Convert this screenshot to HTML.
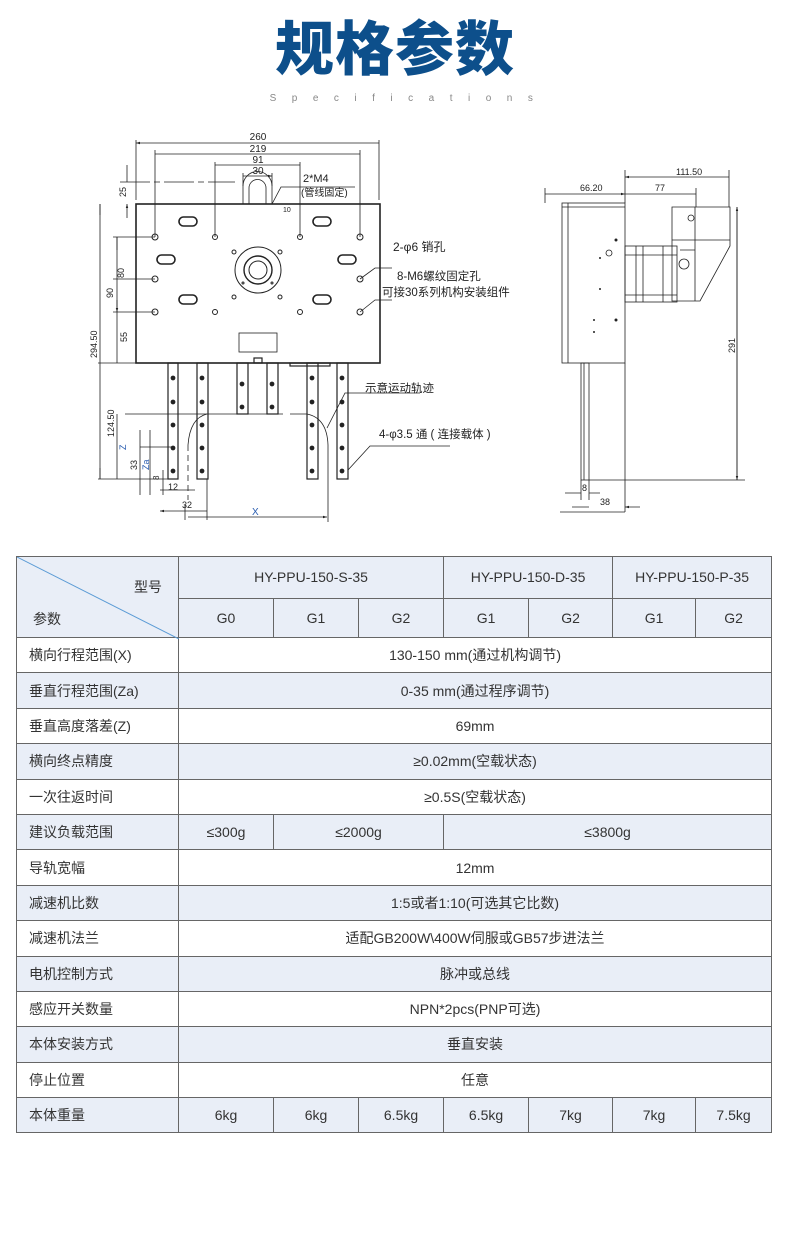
<!DOCTYPE html>
<html><head><meta charset="utf-8"><style>
body{margin:0;background:#fff;width:790px;height:1242px;position:relative;overflow:hidden;font-family:"Liberation Sans","Noto Sans CJK SC",sans-serif;}
.t{position:absolute;left:0;width:790px;text-align:center;}
#title{top:6px;font-size:59px;font-weight:900;color:#0d4f8b;letter-spacing:1px;font-family:"Noto Sans CJK SC","WenQuanYi Zen Hei",sans-serif;line-height:78px;}
#sub{top:93px;font-size:10px;color:#888;letter-spacing:15.5px;padding-left:14px;}
table{position:absolute;left:16px;top:556px;border-collapse:collapse;table-layout:fixed;width:755px;font-size:14px;color:#333;}
td{border:1.5px solid #666;text-align:center;padding:0;height:34.4px;}
tr.a td{background:#e9eef7;}
td.l{text-align:left;padding-left:12px;}
</style></head><body>
<div class="t" id="title">规格参数</div>
<div class="t" id="sub">Specifications</div>
<svg width="790" height="540" style="position:absolute;left:0;top:0" font-family="Liberation Sans,Noto Sans CJK SC,sans-serif" font-size="10" fill="#222">
<defs><marker id="ar" viewBox="0 0 10 10" refX="10" refY="5" markerWidth="7" markerHeight="5" orient="auto-start-reverse"><path d="M0,2L10,5L0,8z" fill="#222"/></marker></defs>
<g stroke="#222" stroke-width="0.8" fill="none">
<rect x="136" y="204" width="244" height="159" stroke-width="1.6"/>
<path d="M243,204V186a14.5,14.5 0 0 1 29,0V204M249,204V188a8.5,8.5 0 0 1 17,0V204"/>
<rect x="239" y="333" width="38" height="19"/>
<path d="M136,140V200M379,140V200M155,150V237M360,150V237M215,162V237M300,162V237M243,173V186M272,173V186"/>
<path d="M136,143H379M155,154H360M215,165H300M243,176H272" marker-start="url(#ar)" marker-end="url(#ar)"/>
<path d="M120,182H235" stroke-dasharray="30 4 6 4"/>
<path d="M127,165V182M127,218V204" marker-end="url(#ar)"/>
<path d="M272,204L281,187H355"/>
<g stroke-width="1">
<circle cx="155" cy="237" r="3"/><circle cx="215" cy="237" r="2.5"/><circle cx="300" cy="237" r="2.5"/><circle cx="360" cy="237" r="3"/>
<circle cx="155" cy="279" r="3"/><circle cx="360" cy="279" r="3"/>
<circle cx="155" cy="312" r="3"/><circle cx="215" cy="312" r="2.5"/><circle cx="300" cy="312" r="2.5"/><circle cx="360" cy="312" r="3"/>
<circle cx="234" cy="252" r="2"/><circle cx="280" cy="252" r="2"/><circle cx="234" cy="297" r="2"/><circle cx="280" cy="297" r="2"/>
<rect x="179" y="217" width="18" height="9" rx="4.5" stroke-width="1.6"/><rect x="313" y="217" width="18" height="9" rx="4.5" stroke-width="1.6"/>
<rect x="157" y="255" width="18" height="9" rx="4.5" stroke-width="1.6"/><rect x="338" y="255" width="18" height="9" rx="4.5" stroke-width="1.6"/>
<rect x="179" y="295" width="18" height="9" rx="4.5" stroke-width="1.6"/><rect x="313" y="295" width="18" height="9" rx="4.5" stroke-width="1.6"/>
<circle cx="258" cy="270" r="23"/><circle cx="258" cy="270" r="14" stroke-width="1.4"/><circle cx="258" cy="270" r="9"/>
<circle cx="243" cy="283" r="1"/><circle cx="272" cy="283" r="1"/>
</g>
<path d="M360,279L375,268H392M360,312L375,300H392"/>
<path d="M100,204V479M117,237V363M117,414V479M98,363H136M113,237H155M113,279H155M113,312H155" />
<path d="M100,215V204M100,468V479M117,250V237M117,300V312" marker-end="url(#ar)"/>
<path d="M98,479H175"/>
<g stroke-width="1.2">
<rect x="168" y="363" width="10" height="116"/><rect x="197" y="363" width="11" height="116"/>
<rect x="237" y="363" width="11" height="51"/><rect x="267" y="363" width="11" height="51"/>
<rect x="307" y="363" width="11" height="116"/><rect x="337" y="363" width="11" height="116"/>
<rect x="290" y="363" width="40" height="3"/><rect x="254" y="358" width="8" height="5"/>
</g>
<g fill="#222">
<circle cx="173" cy="378" r="2"/><circle cx="173" cy="402" r="2"/><circle cx="173" cy="425" r="2"/><circle cx="173" cy="448" r="2"/><circle cx="173" cy="471" r="2"/>
<circle cx="202" cy="378" r="2"/><circle cx="202" cy="402" r="2"/><circle cx="202" cy="425" r="2"/><circle cx="202" cy="448" r="2"/><circle cx="202" cy="471" r="2"/>
<circle cx="242" cy="384" r="2"/><circle cx="242" cy="407" r="2"/><circle cx="272" cy="384" r="2"/><circle cx="272" cy="407" r="2"/>
<circle cx="312" cy="378" r="2"/><circle cx="312" cy="402" r="2"/><circle cx="312" cy="425" r="2"/><circle cx="312" cy="448" r="2"/><circle cx="312" cy="471" r="2"/>
<circle cx="342" cy="378" r="2"/><circle cx="342" cy="402" r="2"/><circle cx="342" cy="425" r="2"/><circle cx="342" cy="448" r="2"/><circle cx="342" cy="471" r="2"/>
</g>
<path d="M125,414H283M290,414H307"/>
<path d="M188,445Q190,418 207,414M307,414Q327,418 328,445V522"/>
<path d="M188,445V500" stroke-dasharray="6 4"/>
<path d="M327,428L345,393H420M348,470L370,446H450"/>
<path d="M140,447H175M150,430V495M140,430V495M163,470V495M160,490H195M185,505V520"/>
<path d="M160,511H207M188,517H327" marker-start="url(#ar)" marker-end="url(#ar)"/>
<path d="M207,479V520"/>
<rect x="562" y="203" width="63" height="160"/><path d="M568,203V363M562,207H625"/>
<rect x="581" y="363" width="8" height="117"/><path d="M584,363V480"/>
<rect x="625" y="246" width="52" height="56"/><path d="M636,246V302M643,246V302M663,246V302M625,255H677M625,295H677"/>
<path d="M672,207H730V246L700,301H672Z M672,240H730M695,207V301M680,250H695V300"/>
<circle cx="684" cy="264" r="5"/><circle cx="691" cy="218" r="3"/><circle cx="609" cy="253" r="3"/>
<path d="M625,170V203M729,170V207M696,188V207M545,188V203M737,207V480M589,480H745M581,480V500M589,480V500M625,363V512M560,512H625"/>
<path d="M625,177H729M625,194H696M545,194H625" marker-start="url(#ar)" marker-end="url(#ar)"/>
<path d="M737,207V480" marker-start="url(#ar)" marker-end="url(#ar)"/>
<path d="M565,493H581M600,493H589M572,507H589M640,507H625" marker-end="url(#ar)"/>
</g>
<g fill="#222"><circle cx="616" cy="240" r="1.5"/><circle cx="600" cy="258" r="1"/><circle cx="600" cy="289" r="1"/><circle cx="594" cy="320" r="1"/><circle cx="616" cy="320" r="1.5"/><circle cx="594" cy="332" r="1"/></g>
<text x="258" y="140" text-anchor="middle">260</text>
<text x="258" y="152" text-anchor="middle">219</text>
<text x="258" y="163" text-anchor="middle">91</text>
<text x="258" y="174" text-anchor="middle">30</text>
<text x="303" y="182" font-size="11">2*M4</text>
<text x="301" y="196" font-size="10">(管线固定)</text>
<text x="283" y="212" font-size="7">10</text>
<text x="393" y="251" font-size="12">2-φ6 销孔</text>
<text x="397" y="280" font-size="11.5">8-M6螺纹固定孔</text>
<text x="382" y="296" font-size="11.5">可接30系列机构安装组件</text>
<text x="365" y="392" font-size="11.5">示意运动轨迹</text>
<text x="379" y="438" font-size="11.5">4-φ3.5 通 ( 连接载体 )</text>
<text transform="translate(126,197) rotate(-90)" font-size="9">25</text>
<text transform="translate(124,278) rotate(-90)" font-size="9">80</text>
<text transform="translate(113,298) rotate(-90)" font-size="9">90</text>
<text transform="translate(127,342) rotate(-90)" font-size="9">55</text>
<text transform="translate(97,358) rotate(-90)" font-size="9">294.50</text>
<text transform="translate(114,437) rotate(-90)" font-size="9">124.50</text>
<text transform="translate(126,450) rotate(-90)" font-size="9" fill="#2a5db0">Z</text>
<text transform="translate(137,470) rotate(-90)" font-size="9">33</text>
<text transform="translate(149,470) rotate(-90)" font-size="9" fill="#2a5db0">Za</text>
<text transform="translate(159,480) rotate(-90)" font-size="8">8</text>
<text x="168" y="490" font-size="9">12</text>
<text x="182" y="508" font-size="9">32</text>
<text x="252" y="515" font-size="10" fill="#2a5db0">X</text>
<text x="676" y="175" font-size="9">111.50</text>
<text x="655" y="191" font-size="9">77</text>
<text x="580" y="191" font-size="9">66.20</text>
<text transform="translate(735,353) rotate(-90)" font-size="9">291</text>
<text x="582" y="491" font-size="9">8</text>
<text x="600" y="505" font-size="9">38</text>
</svg>
<table>
<colgroup><col style="width:162px"><col style="width:95px"><col style="width:85px"><col style="width:85px"><col style="width:85px"><col style="width:84px"><col style="width:83px"><col style="width:76px"></colgroup>
<tr class="a"><td rowspan="2" style="position:relative;height:80px;"><svg width="162" height="82" style="position:absolute;left:0;top:0"><line x1="0" y1="0" x2="162" y2="82" stroke="#5b9bd5" stroke-width="1"/></svg><span style="position:absolute;right:16px;top:20px">型号</span><span style="position:absolute;left:16px;top:52px">参数</span></td><td colspan="3" style="height:40px">HY-PPU-150-S-35</td><td colspan="2">HY-PPU-150-D-35</td><td colspan="2">HY-PPU-150-P-35</td></tr>
<tr class="a"><td style="height:38px">G0</td><td>G1</td><td>G2</td><td>G1</td><td>G2</td><td>G1</td><td>G2</td></tr>
<tr><td class="l">横向行程范围(X)</td><td colspan="7">130-150 mm(通过机构调节)</td></tr>
<tr class="a"><td class="l">垂直行程范围(Za)</td><td colspan="7">0-35 mm(通过程序调节)</td></tr>
<tr><td class="l">垂直高度落差(Z)</td><td colspan="7">69mm</td></tr>
<tr class="a"><td class="l">横向终点精度</td><td colspan="7">≥0.02mm(空载状态)</td></tr>
<tr><td class="l">一次往返时间</td><td colspan="7">≥0.5S(空载状态)</td></tr>
<tr class="a"><td class="l">建议负载范围</td><td>≤300g</td><td colspan="2">≤2000g</td><td colspan="4">≤3800g</td></tr>
<tr><td class="l">导轨宽幅</td><td colspan="7">12mm</td></tr>
<tr class="a"><td class="l">减速机比数</td><td colspan="7">1:5或者1:10(可选其它比数)</td></tr>
<tr><td class="l">减速机法兰</td><td colspan="7">适配GB200W\400W伺服或GB57步进法兰</td></tr>
<tr class="a"><td class="l">电机控制方式</td><td colspan="7">脉冲或总线</td></tr>
<tr><td class="l">感应开关数量</td><td colspan="7">NPN*2pcs(PNP可选)</td></tr>
<tr class="a"><td class="l">本体安装方式</td><td colspan="7">垂直安装</td></tr>
<tr><td class="l">停止位置</td><td colspan="7">任意</td></tr>
<tr class="a"><td class="l">本体重量</td><td>6kg</td><td>6kg</td><td>6.5kg</td><td>6.5kg</td><td>7kg</td><td>7kg</td><td>7.5kg</td></tr>
</table>
</body></html>
